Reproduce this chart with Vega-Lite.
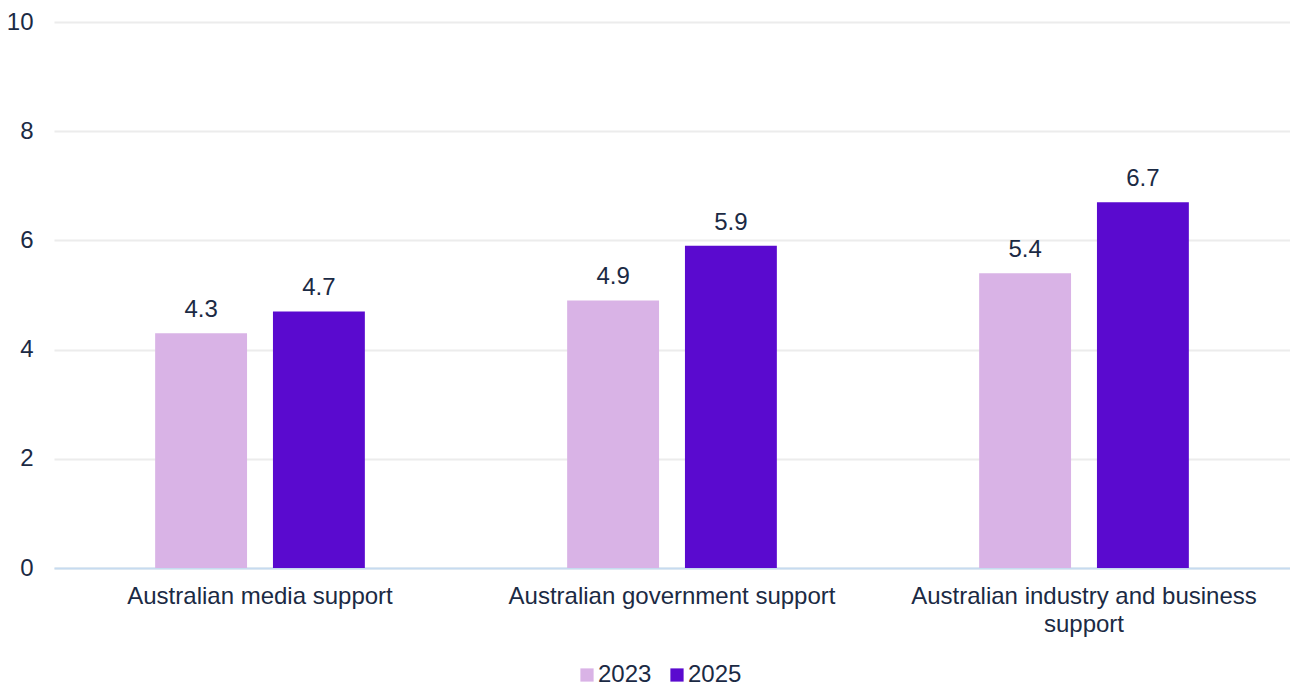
{
  "$schema": "https://vega.github.io/schema/vega-lite/v6.json",
  "autosize": "none",
  "width": 1236,
  "height": 546,
  "padding": {"left": 54, "top": 22, "right": 0, "bottom": 115},
  "background": "white",
  "config": {
    "font": "Liberation Sans",
    "view": {"stroke": null}
  },
  "data": {
    "values": [
      {"category": "Australian media support", "year": "2023", "value": 4.3},
      {"category": "Australian media support", "year": "2025", "value": 4.7},
      {"category": "Australian government support", "year": "2023", "value": 4.9},
      {"category": "Australian government support", "year": "2025", "value": 5.9},
      {"category": "Australian industry and business support", "year": "2023", "value": 5.4},
      {"category": "Australian industry and business support", "year": "2025", "value": 6.7}
    ]
  },
  "encoding": {
    "x": {
      "field": "category",
      "type": "nominal",
      "sort": null,
      "title": null,
      "scale": {"paddingInner": 0.491, "paddingOuter": 0.2455},
      "axis": {
        "labelAngle": 0,
        "labelFontSize": 24,
        "labelColor": "#1b2a44",
        "labelPadding": 28,
        "labelLineHeight": 28,
        "labelBaseline": "middle",
        "labelLimit": 500,
        "ticks": false,
        "domainColor": "#c6dbf0",
        "domainWidth": 2,
        "labelExpr": "datum.value == 'Australian industry and business support' ? ['Australian industry and business', 'support'] : datum.value"
      }
    },
    "xOffset": {
      "field": "year",
      "type": "nominal",
      "scale": {"paddingInner": 0.22, "paddingOuter": 0}
    },
    "y": {
      "field": "value",
      "type": "quantitative",
      "title": null,
      "scale": {"domain": [0, 10]},
      "axis": {
        "values": [0, 2, 4, 6, 8, 10],
        "labelFontSize": 24,
        "labelColor": "#1b2a44",
        "labelPadding": 21,
        "ticks": false,
        "domain": false,
        "gridColor": "#ececec",
        "gridWidth": 2
      }
    }
  },
  "layer": [
    {
      "mark": {"type": "bar"},
      "encoding": {
        "color": {
          "field": "year",
          "type": "nominal",
          "title": null,
          "scale": {"domain": ["2023", "2025"], "range": ["#d9b3e6", "#5a0acf"]},
          "legend": {
            "orient": "none",
            "legendX": 521,
            "legendY": 641,
            "direction": "horizontal",
            "symbolType": "square",
            "symbolSize": 175,
            "symbolStrokeWidth": 0,
            "labelFontSize": 24,
            "labelColor": "#1b2a44",
            "labelOffset": -1,
            "columnPadding": 13
          }
        }
      }
    },
    {
      "mark": {"type": "text", "fontSize": 24, "color": "#1b2a44", "baseline": "alphabetic", "dy": -16},
      "encoding": {
        "text": {"field": "value", "type": "quantitative", "format": ".1f"}
      }
    }
  ]
}
